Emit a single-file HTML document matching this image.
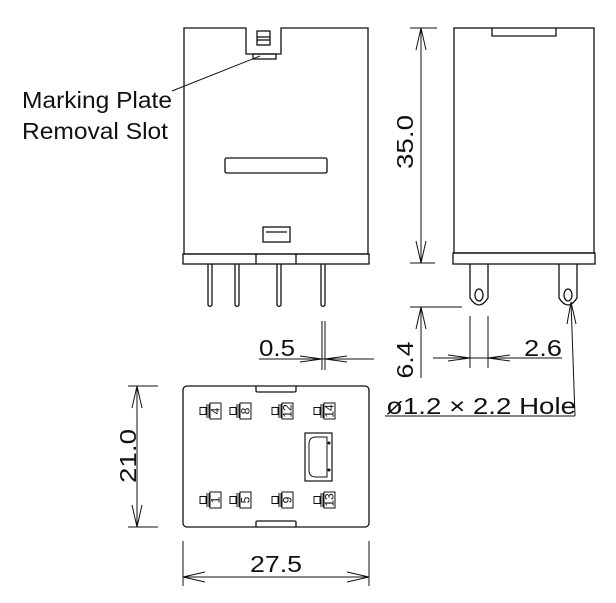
<!DOCTYPE html>
<html><head><style>
html,body{margin:0;padding:0;background:#fff;}
svg{display:block;}
text{font-family:"Liberation Sans",Arial,sans-serif;fill:#111;}
</style></head><body>
<svg width="616" height="603" viewBox="0 0 616 603" xmlns="http://www.w3.org/2000/svg">
<defs>
<g id="term">
  <rect x="0" y="-3.5" width="6" height="7" fill="#fff" stroke="#111" stroke-width="1"/>
  <line x1="7" y1="-7" x2="7" y2="7" stroke="#111" stroke-width="1"/>
  <line x1="9" y1="-7" x2="9" y2="7" stroke="#111" stroke-width="1"/>
  <rect x="10" y="-8" width="11" height="16" fill="#fff" stroke="#111" stroke-width="1"/>
</g>
</defs>
<g fill="none" stroke="#111" stroke-width="1.3">
<path d="M184,28 H246 V54 H281 V28 H368 V254 H184 Z"/>
<rect x="257" y="31" width="13" height="14"/>
<line x1="257" y1="37" x2="270" y2="37"/><line x1="257" y1="40" x2="270" y2="40"/>
<rect x="253" y="54" width="23" height="5"/>
<rect x="225" y="158" width="102" height="15" rx="1.5"/>
<rect x="263" y="227" width="27" height="15"/>
<line x1="266" y1="232" x2="287" y2="232"/>
<rect x="183" y="254" width="186" height="10"/>
<line x1="256" y1="254" x2="256" y2="264"/><line x1="296" y1="254" x2="296" y2="264"/>
<path d="M208,264 V305 Q210,308 212,305 V264"/>
<path d="M235,264 V305 Q237,308 239,305 V264"/>
<path d="M277,264 V305 Q279,308 281,305 V264"/>
<path d="M321,264 V305 Q323,308 325,305 V264"/>
<line x1="172" y1="91" x2="260" y2="56" stroke-width="1"/>

<rect x="454" y="28" width="140" height="225"/>
<path d="M492,28 V36 H556 V28"/>
<rect x="453" y="253" width="142" height="11"/>
<path d="M470,264 V298 Q479,312 488,298 V264"/>
<path d="M559,264 V298 Q568,312 577,298 V264"/>
<ellipse cx="479" cy="295" rx="4" ry="6"/>
<ellipse cx="568" cy="295" rx="4" ry="6"/>

<g stroke-width="1">
<line x1="410" y1="28" x2="437" y2="28"/>
<line x1="410" y1="263" x2="435" y2="263"/>
<line x1="410" y1="307" x2="462" y2="307"/>
<line x1="421" y1="28" x2="421" y2="263"/>
<line x1="421" y1="307" x2="421" y2="378"/>
<path d="M416,50 L421,28 L426,50"/>
<path d="M416,241 L421,263 L426,241"/>
<path d="M416,329 L421,307 L426,329"/>
<line x1="470" y1="316" x2="470" y2="368"/>
<line x1="488" y1="316" x2="488" y2="368"/>
<line x1="433" y1="358" x2="562" y2="358"/>
<path d="M448,355 L470,358 L448,361"/>
<path d="M510,355 L488,358 L510,361"/>
<line x1="385" y1="416" x2="575" y2="416"/>
<line x1="575" y1="416" x2="571" y2="302"/>
<path d="M567,324 L571,302 L576,324"/>
<line x1="322" y1="321" x2="322" y2="370"/>
<line x1="325" y1="321" x2="325" y2="370"/>
<line x1="259" y1="359" x2="374" y2="359"/>
<path d="M300,356 L322,359 L300,362"/>
<path d="M347,356 L325,359 L347,362"/>
<line x1="128" y1="386" x2="158" y2="386"/>
<line x1="128" y1="527" x2="158" y2="527"/>
<line x1="137" y1="386" x2="137" y2="527"/>
<path d="M132,408 L137,386 L142,408"/>
<path d="M132,505 L137,527 L142,505"/>
<line x1="183" y1="541" x2="183" y2="586"/>
<line x1="369" y1="541" x2="369" y2="586"/>
<line x1="183" y1="577" x2="369" y2="577"/>
<path d="M205,572 L183,577 L205,582"/>
<path d="M347,572 L369,577 L347,582"/>
</g>

<rect x="183" y="386" width="186" height="141" rx="4"/>
<path d="M256,386 V391 Q256,392 258,392 H294 Q296,392 296,391 V386"/>
<path d="M256,527 V522 Q256,521 258,521 H294 Q296,521 296,522 V527"/>
<rect x="305" y="433" width="27" height="48" stroke-width="1.2"/>
<path d="M316,437 H327 V477 H316 Q309,477 309,470 V444 Q309,437 316,437" stroke-width="1"/>
</g>
<g fill="#111"><circle cx="329" cy="443" r="1.5"/><circle cx="329" cy="470" r="1.5"/></g>
<use href="#term" x="200" y="411"/><use href="#term" x="230" y="411"/>
<use href="#term" x="272" y="411"/><use href="#term" x="314" y="411"/>
<use href="#term" x="200" y="500"/><use href="#term" x="230" y="500"/>
<use href="#term" x="272" y="500"/><use href="#term" x="314" y="500"/>
<g font-size="12">
<text transform="translate(215.5,411) rotate(-90)" text-anchor="middle" dy="4">4</text>
<text transform="translate(245.5,411) rotate(-90)" text-anchor="middle" dy="4">8</text>
<text transform="translate(287.5,411) rotate(-90)" text-anchor="middle" dy="4">12</text>
<text transform="translate(329.5,411) rotate(-90)" text-anchor="middle" dy="4">14</text>
<text transform="translate(215.5,500) rotate(-90)" text-anchor="middle" dy="4">1</text>
<text transform="translate(245.5,500) rotate(-90)" text-anchor="middle" dy="4">5</text>
<text transform="translate(287.5,500) rotate(-90)" text-anchor="middle" dy="4">9</text>
<text transform="translate(329.5,500) rotate(-90)" text-anchor="middle" dy="4">13</text>
</g>

<g font-size="23">
<text x="22" y="108" textLength="150" lengthAdjust="spacingAndGlyphs">Marking Plate</text>
<text x="22" y="139" textLength="146" lengthAdjust="spacingAndGlyphs">Removal Slot</text>
<text transform="translate(413,142) rotate(-90)" text-anchor="middle" textLength="54" lengthAdjust="spacingAndGlyphs">35.0</text>
<text transform="translate(413,360) rotate(-90)" text-anchor="middle" textLength="37" lengthAdjust="spacingAndGlyphs">6.4</text>
<text x="524" y="356" textLength="38" lengthAdjust="spacingAndGlyphs">2.6</text>
<text x="259" y="356" textLength="36" lengthAdjust="spacingAndGlyphs">0.5</text>
<text x="386" y="414" textLength="190" lengthAdjust="spacingAndGlyphs">ø1.2 × 2.2 Hole</text>
<text transform="translate(136,456) rotate(-90)" text-anchor="middle" textLength="54" lengthAdjust="spacingAndGlyphs">21.0</text>
<text x="276" y="572" text-anchor="middle" textLength="52" lengthAdjust="spacingAndGlyphs">27.5</text>
</g>
</svg>
</body></html>
